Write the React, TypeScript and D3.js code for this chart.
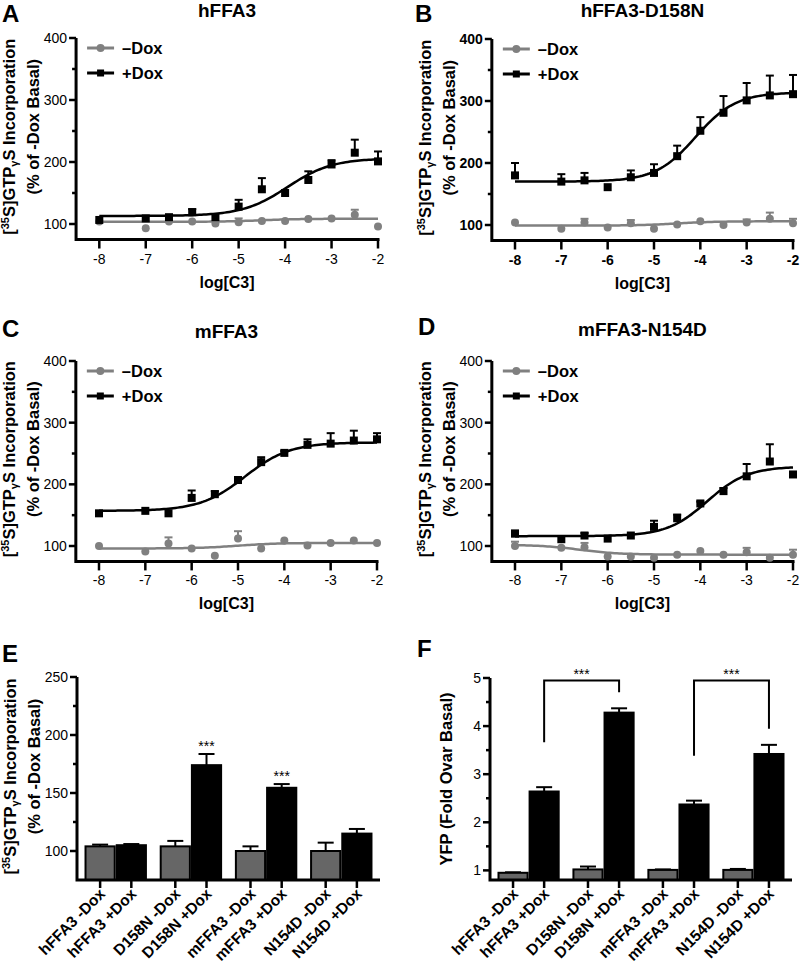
import React from 'react';
import * as d3 from 'd3';

const FONT = '"Liberation Sans", Arial, Helvetica, sans-serif';
const GRAY = '#808080';
const BAR_GRAY = '#666666';

// ---------- dose-response data ----------
const DOSES = [-8, -7, -6.5, -6, -5.5, -5, -4.5, -4, -3.5, -3, -2.5, -2];
const X_TICKS = [-8, -7, -6, -5, -4, -3, -2];
const Y_TICKS_LINE = [100, 200, 300, 400];
const Y_MINOR_LINE = [150, 250, 350];
const SERIES_LABELS = ['\u2013Dox', '+Dox'];

const A_MINUS = [104, 93, 104, 104, 101, 103, 105, 105, 108, 109, 115, 96];
const A_MINUS_ERR = [0, 0, 0, 0, 0, 6, 0, 0, 0, 0, 8, 0];
const A_PLUS = [106.5, 109, 111, 119, 111, 128, 156, 150, 171, 196, 215, 201];
const A_PLUS_ERR = [0, 0, 0, 5, 0, 11, 18, 0, 14, 7, 21, 16];
const A_FIT_MINUS = [103.5, 108.5, -4.5, 1];
const A_FIT_PLUS = [113, 206, -3.95, 0.9];

const B_MINUS = [104, 94, 104, 96, 103, 94, 101, 106, 100, 104, 110, 103];
const B_MINUS_ERR = [0, 0, 6, 0, 5, 0, 0, 0, 0, 5, 10, 7];
const B_PLUS = [180, 170, 172, 161, 177, 184, 211, 252, 281, 301, 309, 311];
const B_PLUS_ERR = [20, 12, 12, 0, 11, 14, 17, 22, 27, 28, 32, 31];
const B_FIT_MINUS = [99, 106, -4.5, 1];
const B_FIT_PLUS = [170, 314, -4.1, 1];

const C_MINUS = [100, 91, 104, 96, 84, 112, 96, 109, 101, 105, 109, 105];
const C_MINUS_ERR = [0, 0, 10, 0, 0, 12, 0, 0, 0, 0, 0, 0];
const C_PLUS = [153, 157, 153, 178, 184, 207, 236, 251, 264, 266, 271, 273];
const C_PLUS_ERR = [0, 0, 0, 12, 5, 4, 8, 3, 9, 17, 16, 10];
const C_FIT_MINUS = [96, 105, -5, 1];
const C_FIT_PLUS = [157, 268, -4.85, 0.9];

const D_MINUS = [100, 97, 98, 83, 83, 81, 86, 92, 86, 90, 81, 86];
const D_MINUS_ERR = [7, 0, 7, 0, 0, 0, 0, 0, 0, 7, 0, 8];
const D_PLUS = [120, 111, 117, 112, 117, 131, 145, 169, 189, 213, 237, 216];
const D_PLUS_ERR = [5, 0, 4, 0, 0, 10, 6, 3, 5, 20, 28, 0];
const D_FIT_MINUS = [102, 86, -6.6, 1];
const D_FIT_PLUS = [116, 229, -3.85, 1];

// ---------- bar data ----------
const GROUPS = ['hFFA3', 'D158N', 'mFFA3', 'N154D'];
const CONDITIONS = ['-Dox', '+Dox'];
const BAR_LABELS = ['hFFA3 -Dox', 'hFFA3 +Dox', 'D158N -Dox', 'D158N +Dox', 'mFFA3 -Dox', 'mFFA3 +Dox', 'N154D -Dox', 'N154D +Dox'];

const E_VALUES = [104, 105, 104, 174, 100, 154.5, 100, 115];
const E_ERR = [1.5, 1, 4.7, 9.6, 4, 3.2, 7.2, 4];
const E_Y_TICKS = [100, 150, 200, 250];
const E_Y_MINOR = [125, 175, 225];
const E_SIG = ['', '', '', '***', '', '***', '', ''];

const F_VALUES = [0.95, 2.64, 1.02, 4.28, 1.01, 2.37, 1.01, 3.42];
const F_ERR = [0.01, 0.09, 0.06, 0.09, 0.01, 0.08, 0.02, 0.19];
const F_Y_TICKS = [1, 2, 3, 4, 5];
const F_Y_MINOR = [1.5, 2.5, 3.5, 4.5];
const F_BRACKETS = [
  { from: 'hFFA3 +Dox', to: 'D158N +Dox', label: '***' },
  { from: 'mFFA3 +Dox', to: 'N154D +Dox', label: '***' },
];

const fourPL = (p: number[], x: number) => p[0] + (p[1] - p[0]) / (1 + Math.pow(10, (p[2] - x) * p[3]));

function GtpLabel({ x, mid }: { x: number; mid: number }) {
  return (
    <g fontFamily={FONT} fontWeight="bold" fontSize={16.5} fill="#000">
      <text transform={`translate(${x - 61},${mid - 2}) rotate(-90)`} textAnchor="middle">
        [<tspan fontSize={11} dy={-6}>35</tspan>
        <tspan dy={6}>S]GTP</tspan>
        <tspan fontSize={11} dy={3}>γ</tspan>
        <tspan dy={-3}>S Incorporation</tspan>
      </text>
      <text transform={`translate(${x - 37},${mid - 12}) rotate(-90)`} textAnchor="middle">
        (% of -Dox Basal)
      </text>
    </g>
  );
}

type CurveProps = {
  letter: string; lx: number; ly: number; title: string; titleY: number;
  x8: number; x2: number; y100: number; y400: number;
  minus: number[]; minusErr: number[]; plus: number[]; plusErr: number[];
  fitMinus: number[]; fitPlus: number[]; boldTicks?: boolean;
};

function CurvePanel(p: CurveProps) {
  const x = d3.scaleLinear().domain([-8, -2]).range([p.x8, p.x2]);
  const y = d3.scaleLinear().domain([100, 400]).range([p.y100, p.y400]);
  const x0 = x(-8.5);
  const yB = y(75);
  const yT = y(400);
  const xs = d3.range(-8, -2, 0.05).concat([-2]);
  const lineGen = (fit: number[]) => d3.line<number>().x((v) => x(v)).y((v) => y(fourPL(fit, v)))(xs) || '';
  const mid = (yT + yB) / 2;
  const cx = (x0 + x(-2)) / 2;

  const errBars = (vals: number[], errs: number[], color: string) =>
    DOSES.map((d, i) =>
      errs[i] > 0 ? (
        <g key={i} stroke={color} strokeWidth={2}>
          <line x1={x(d)} x2={x(d)} y1={y(vals[i])} y2={y(vals[i] + errs[i])} />
          <line x1={x(d) - 4} x2={x(d) + 4} y1={y(vals[i] + errs[i])} y2={y(vals[i] + errs[i])} />
        </g>
      ) : null
    );

  return (
    <g>
      <text x={p.lx} y={p.ly} fontFamily={FONT} fontWeight="bold" fontSize={24}>{p.letter}</text>
      <text x={cx} y={p.titleY} fontFamily={FONT} fontWeight="bold" fontSize={19} textAnchor="middle">{p.title}</text>
      <GtpLabel x={x0} mid={mid} />
      {/* axes */}
      <path d={`M${x0},${yT}V${yB}H${x(-2) + 1.5}`} fill="none" stroke="#000" strokeWidth={3} />
      {Y_TICKS_LINE.map((t) => (
        <g key={t}>
          <line x1={x0 - 7} x2={x0} y1={y(t)} y2={y(t)} stroke="#000" strokeWidth={2.5} />
          <text x={x0 - 9} y={y(t)} dy="0.35em" textAnchor="end" fontFamily={FONT} fontSize={14} fontWeight={p.boldTicks ? 'bold' : 'normal'}>{t}</text>
        </g>
      ))}
      {Y_MINOR_LINE.map((t) => (
        <line key={t} x1={x0 - 4} x2={x0} y1={y(t)} y2={y(t)} stroke="#000" strokeWidth={2.5} />
      ))}
      {X_TICKS.map((t) => (
        <g key={t}>
          <line x1={x(t)} x2={x(t)} y1={yB} y2={yB + 9} stroke="#000" strokeWidth={2.5} />
          <text x={x(t)} y={yB + 24} textAnchor="middle" fontFamily={FONT} fontSize={14} fontWeight={p.boldTicks ? 'bold' : 'normal'}>{t}</text>
        </g>
      ))}
      <text x={cx} y={yB + 48} textAnchor="middle" fontFamily={FONT} fontWeight="bold" fontSize={16}>log[C3]</text>
      {/* legend */}
      <g transform={`translate(${x0 + 11},${yT + 10})`}>
        <line x1={0} x2={27} y1={0} y2={0} stroke={GRAY} strokeWidth={3} />
        <circle cx={13.5} cy={0} r={4} fill={GRAY} />
        <text x={35} y={0} dy="0.35em" fontFamily={FONT} fontWeight="bold" fontSize={16.5}>{SERIES_LABELS[0]}</text>
        <line x1={0} x2={27} y1={25} y2={25} stroke="#000" strokeWidth={3} />
        <rect x={10} y={21.5} width={7} height={7} fill="#000" />
        <text x={35} y={25} dy="0.35em" fontFamily={FONT} fontWeight="bold" fontSize={16.5}>{SERIES_LABELS[1]}</text>
      </g>
      {/* -Dox */}
      <path d={lineGen(p.fitMinus)} fill="none" stroke={GRAY} strokeWidth={2.5} />
      {errBars(p.minus, p.minusErr, GRAY)}
      {DOSES.map((d, i) => (
        <circle key={i} cx={x(d)} cy={y(p.minus[i])} r={4} fill={GRAY} />
      ))}
      {/* +Dox */}
      <path d={lineGen(p.fitPlus)} fill="none" stroke="#000" strokeWidth={2.5} />
      {errBars(p.plus, p.plusErr, '#000')}
      {DOSES.map((d, i) => (
        <rect key={i} x={x(d) - 4} y={y(p.plus[i]) - 4} width={8} height={8} fill="#000" />
      ))}
    </g>
  );
}

type BarProps = {
  letter: string; lx: number; ly: number;
  x0: number; xEnd: number; yDomain: [number, number]; yRange: [number, number];
  ticks: number[]; minor: number[]; values: number[]; errs: number[];
  ylabel: React.ReactNode;
  children?: (fns: { xc: (lab: string) => number; y: d3.ScaleLinear<number, number> }) => React.ReactNode;
};

function BarPanel(p: BarProps) {
  const outer = d3.scaleBand<string>().domain(GROUPS).range([p.x0, p.xEnd]).paddingInner(0.17).paddingOuter(0.1);
  const inner = d3.scaleBand<string>().domain(CONDITIONS).range([0, outer.bandwidth()]).padding(0);
  const y = d3.scaleLinear().domain(p.yDomain).range(p.yRange);
  const yB = p.yRange[0];
  const yT = y(p.yDomain[1]);
  const barX = (i: number) => (outer(GROUPS[Math.floor(i / 2)]) as number) + (inner(CONDITIONS[i % 2]) as number);
  const bw = inner.bandwidth();
  const xc = (lab: string) => barX(BAR_LABELS.indexOf(lab)) + bw / 2;
  return (
    <g>
      <text x={p.lx} y={p.ly} fontFamily={FONT} fontWeight="bold" fontSize={24}>{p.letter}</text>
      {p.ylabel}
      {BAR_LABELS.map((lab, i) => {
        const v = p.values[i];
        const x = barX(i);
        const c = x + bw / 2;
        const ye = y(v + p.errs[i]);
        return (
          <g key={lab}>
            <line x1={c} x2={c} y1={y(v)} y2={ye} stroke="#000" strokeWidth={2} />
            <line x1={c - 8} x2={c + 8} y1={ye} y2={ye} stroke="#000" strokeWidth={2} />
            <rect x={x + 1} y={y(v)} width={bw - 2} height={yB - y(v)} fill={i % 2 === 0 ? BAR_GRAY : '#000'} stroke="#000" strokeWidth={2} />
          </g>
        );
      })}
      <path d={`M${p.x0},${yT}V${yB}H${p.xEnd}`} fill="none" stroke="#000" strokeWidth={3} />
      {p.ticks.map((t) => (
        <g key={t}>
          <line x1={p.x0 - 7} x2={p.x0} y1={y(t)} y2={y(t)} stroke="#000" strokeWidth={2.5} />
          <text x={p.x0 - 9} y={y(t)} dy="0.35em" textAnchor="end" fontFamily={FONT} fontSize={14}>{t}</text>
        </g>
      ))}
      {p.minor.map((t) => (
        <line key={t} x1={p.x0 - 4} x2={p.x0} y1={y(t)} y2={y(t)} stroke="#000" strokeWidth={2.5} />
      ))}
      {BAR_LABELS.map((lab, i) => {
        const c = barX(i) + bw / 2;
        return (
          <g key={lab}>
            <line x1={c} x2={c} y1={yB} y2={yB + 8} stroke="#000" strokeWidth={2.5} />
            <text transform={`translate(${c + 6},${yB + 15}) rotate(-45)`} textAnchor="end" fontFamily={FONT} fontWeight="bold" fontSize={15.5}>{lab}</text>
          </g>
        );
      })}
      {p.children ? p.children({ xc, y }) : null}
    </g>
  );
}

export default function App() {
  return (
    <svg width={800} height={965} style={{ position: 'absolute', left: 0, top: 0, background: '#fff' }}>
      <rect width={800} height={965} fill="#fff" />
      <CurvePanel letter="A" lx={2} ly={22} title="hFFA3" titleY={17} x8={99.3} x2={378} y100={224} y400={38}
        minus={A_MINUS} minusErr={A_MINUS_ERR} plus={A_PLUS} plusErr={A_PLUS_ERR} fitMinus={A_FIT_MINUS} fitPlus={A_FIT_PLUS} />
      <CurvePanel letter="B" lx={415} ly={22} title="hFFA3-D158N" titleY={17} x8={515} x2={793} y100={225} y400={39}
        minus={B_MINUS} minusErr={B_MINUS_ERR} plus={B_PLUS} plusErr={B_PLUS_ERR} fitMinus={B_FIT_MINUS} fitPlus={B_FIT_PLUS} boldTicks />
      <CurvePanel letter="C" lx={2} ly={337} title="mFFA3" titleY={338} x8={99} x2={377} y100={546} y400={361}
        minus={C_MINUS} minusErr={C_MINUS_ERR} plus={C_PLUS} plusErr={C_PLUS_ERR} fitMinus={C_FIT_MINUS} fitPlus={C_FIT_PLUS} />
      <CurvePanel letter="D" lx={418} ly={335} title="mFFA3-N154D" titleY={336} x8={515} x2={793} y100={546} y400={361}
        minus={D_MINUS} minusErr={D_MINUS_ERR} plus={D_PLUS} plusErr={D_PLUS_ERR} fitMinus={D_FIT_MINUS} fitPlus={D_FIT_PLUS} />
      <BarPanel letter="E" lx={2} ly={662} x0={77} xEnd={380} yDomain={[75, 250]} yRange={[880, 677]}
        ticks={E_Y_TICKS} minor={E_Y_MINOR} values={E_VALUES} errs={E_ERR}
        ylabel={<GtpLabel x={77} mid={778.5} />}>
        {({ xc, y }) =>
          BAR_LABELS.map((lab, i) =>
            E_SIG[i] ? (
              <text key={lab} x={xc(lab)} y={y(E_VALUES[i] + E_ERR[i]) - 3} textAnchor="middle" fontFamily={FONT} fontSize={14}>{E_SIG[i]}</text>
            ) : null
          )
        }
      </BarPanel>
      <BarPanel letter="F" lx={417} ly={657} x0={490} xEnd={792} yDomain={[0.8, 5]} yRange={[880, 678]}
        ticks={F_Y_TICKS} minor={F_Y_MINOR} values={F_VALUES} errs={F_ERR}
        ylabel={
          <text transform={`translate(452,779) rotate(-90)`} textAnchor="middle" fontFamily={FONT} fontWeight="bold" fontSize={16.5}>
            YFP (Fold Ovar Basal)
          </text>
        }>
        {({ xc, y }) =>
          F_BRACKETS.map((b, k) => {
            const i1 = BAR_LABELS.indexOf(b.from);
            const i2 = BAR_LABELS.indexOf(b.to);
            const top = y(4.95);
            const l = xc(b.from);
            const r = xc(b.to);
            const yl = y(F_VALUES[i1] + F_ERR[i1]) - 45;
            const yr = y(F_VALUES[i2] + F_ERR[i2]) - 16;
            return (
              <g key={k}>
                <path d={`M${l},${yl}V${top}H${r}V${yr}`} fill="none" stroke="#000" strokeWidth={2} />
                <text x={(l + r) / 2} y={top - 1} textAnchor="middle" fontFamily={FONT} fontSize={14}>{b.label}</text>
              </g>
            );
          })
        }
      </BarPanel>
    </svg>
  );
}
